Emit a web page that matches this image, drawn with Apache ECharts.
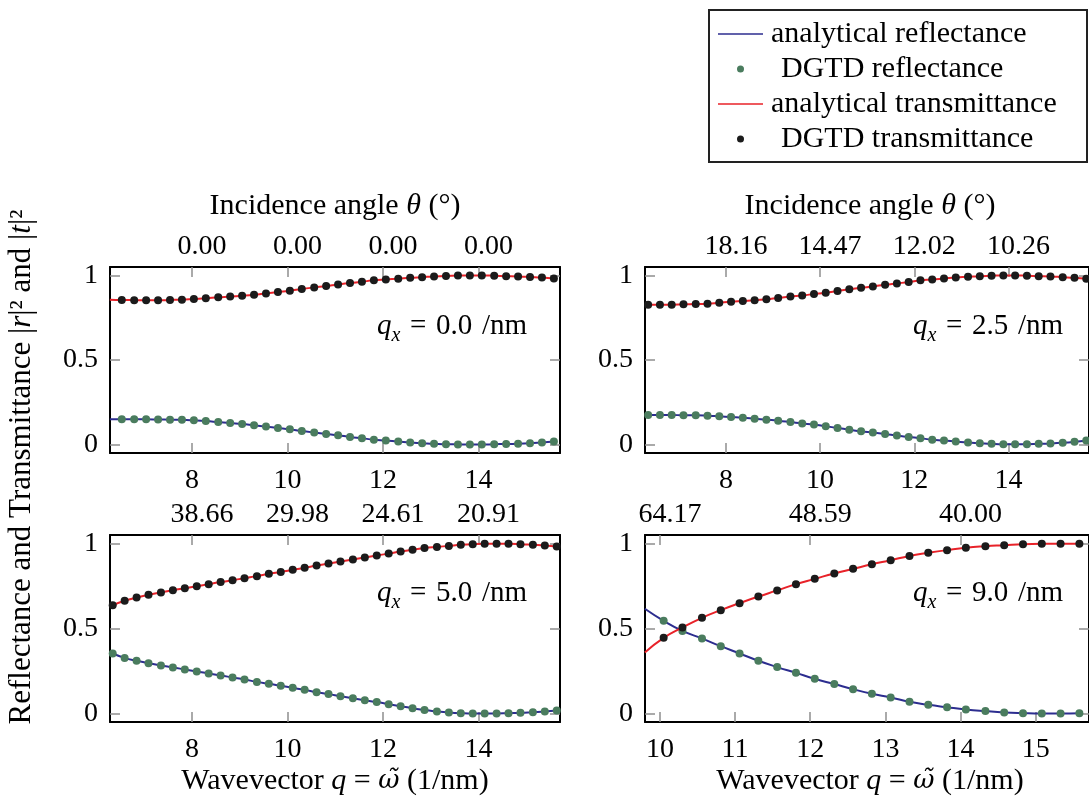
<!DOCTYPE html>
<html>
<head>
<meta charset="utf-8">
<script src="https://cdn.jsdelivr.net/npm/echarts@6/dist/echarts.min.js"></script>
<style>
  html, body { margin: 0; padding: 0; background: #ffffff; }
  #chart { width: 1089px; height: 809px; }
</style>
</head>
<body>
<div id="chart"></div>
<script>
// ---- Simulated frequencies (wavevector q = omega, 1/nm) for each q_x ----
const omegaQx00 = [6.28, 6.53, 6.79, 7.04, 7.29, 7.54, 7.79, 8.04, 8.29, 8.55, 8.80, 9.05, 9.30, 9.55, 9.80, 10.05, 10.30, 10.56, 10.81, 11.06, 11.31, 11.56, 11.81, 12.06, 12.32, 12.57, 12.82, 13.07, 13.32, 13.57, 13.82, 14.07, 14.33, 14.58, 14.83, 15.08, 15.33, 15.58];
const omegaQx25 = [6.35, 6.60, 6.85, 7.10, 7.36, 7.61, 7.86, 8.11, 8.36, 8.61, 8.86, 9.11, 9.37, 9.62, 9.87, 10.12, 10.37, 10.62, 10.87, 11.12, 11.38, 11.63, 11.88, 12.13, 12.38, 12.63, 12.88, 13.14, 13.39, 13.64, 13.89, 14.14, 14.39, 14.64, 14.89, 15.15, 15.40, 15.65];
const omegaQx50 = [6.34, 6.59, 6.84, 7.09, 7.35, 7.60, 7.85, 8.10, 8.35, 8.60, 8.85, 9.10, 9.36, 9.61, 9.86, 10.11, 10.36, 10.61, 10.86, 11.11, 11.37, 11.62, 11.87, 12.12, 12.37, 12.62, 12.87, 13.13, 13.38, 13.63, 13.88, 14.13, 14.38, 14.63, 14.88, 15.14, 15.39, 15.64];
const omegaQx90 = [9.80, 10.05, 10.30, 10.56, 10.81, 11.06, 11.31, 11.56, 11.81, 12.06, 12.32, 12.57, 12.82, 13.07, 13.32, 13.57, 13.82, 14.07, 14.33, 14.58, 14.83, 15.08, 15.33, 15.58];

// ---- Reflectance |r|^2 ----
const reflQx00 = [0.149, 0.149, 0.149, 0.149, 0.148, 0.147, 0.146, 0.143, 0.139, 0.133, 0.127, 0.122, 0.114, 0.106, 0.098, 0.090, 0.080, 0.071, 0.063, 0.055, 0.045, 0.037, 0.029, 0.024, 0.018, 0.012, 0.008, 0.004, 0.002, 0.001, 0.000, 0.000, 0.002, 0.003, 0.005, 0.008, 0.012, 0.018];
const reflQx25 = [0.175, 0.175, 0.175, 0.173, 0.173, 0.171, 0.167, 0.163, 0.159, 0.153, 0.147, 0.141, 0.133, 0.125, 0.118, 0.108, 0.098, 0.088, 0.078, 0.071, 0.063, 0.053, 0.045, 0.037, 0.029, 0.024, 0.018, 0.012, 0.008, 0.004, 0.002, 0.002, 0.002, 0.004, 0.006, 0.010, 0.016, 0.024];
const reflQx50 = [0.353, 0.327, 0.310, 0.296, 0.282, 0.271, 0.259, 0.247, 0.235, 0.224, 0.212, 0.200, 0.186, 0.175, 0.163, 0.151, 0.139, 0.125, 0.114, 0.102, 0.090, 0.078, 0.067, 0.055, 0.043, 0.031, 0.020, 0.012, 0.006, 0.002, 0.000, 0.000, 0.000, 0.002, 0.004, 0.008, 0.012, 0.018];
const reflQx90 = [0.616, 0.545, 0.486, 0.441, 0.396, 0.353, 0.310, 0.273, 0.239, 0.204, 0.173, 0.143, 0.116, 0.094, 0.069, 0.051, 0.037, 0.024, 0.014, 0.006, 0.002, 0.000, 0.000, 0.002];

// ---- Transmittance |t|^2 ----
const transQx00 = [0.857, 0.855, 0.854, 0.853, 0.853, 0.855, 0.857, 0.861, 0.865, 0.871, 0.875, 0.880, 0.886, 0.894, 0.902, 0.910, 0.920, 0.929, 0.937, 0.947, 0.955, 0.963, 0.971, 0.976, 0.981, 0.986, 0.990, 0.994, 0.997, 0.999, 1.000, 1.000, 0.998, 0.996, 0.994, 0.991, 0.988, 0.982];
const transQx25 = [0.827, 0.827, 0.827, 0.829, 0.831, 0.833, 0.839, 0.845, 0.849, 0.853, 0.859, 0.867, 0.875, 0.882, 0.890, 0.898, 0.908, 0.918, 0.927, 0.935, 0.945, 0.953, 0.961, 0.971, 0.976, 0.982, 0.988, 0.992, 0.996, 0.998, 1.000, 1.000, 0.998, 0.996, 0.994, 0.990, 0.986, 0.980];
const transQx50 = [0.637, 0.663, 0.682, 0.698, 0.712, 0.725, 0.737, 0.749, 0.761, 0.773, 0.784, 0.796, 0.808, 0.822, 0.833, 0.845, 0.857, 0.871, 0.882, 0.894, 0.906, 0.918, 0.929, 0.941, 0.953, 0.963, 0.973, 0.980, 0.986, 0.992, 0.996, 0.998, 0.998, 0.998, 0.996, 0.992, 0.988, 0.982];
const transQx90 = [0.359, 0.445, 0.506, 0.563, 0.608, 0.649, 0.688, 0.724, 0.761, 0.792, 0.824, 0.851, 0.878, 0.902, 0.927, 0.945, 0.961, 0.975, 0.984, 0.990, 0.996, 0.998, 0.998, 0.998];

// ---- Tick positions and labels ----
const wavevectorTicks = [8, 10, 12, 14];
const wavevectorTicksQx90 = [10, 11, 12, 13, 14, 15];
const angleTickPos = [8, 10, 12, 14];
const angleTickPosQx90 = [10, 12, 14];
const angleLabelsQx00 = ['0.00', '0.00', '0.00', '0.00'];
const angleLabelsQx25 = ['18.16', '14.47', '12.02', '10.26'];
const angleLabelsQx50 = ['38.66', '29.98', '24.61', '20.91'];
const angleLabelsQx90 = ['64.17', '48.59', '40.00'];
const qxValues = ['0.0', '2.5', '5.0', '9.0'];
const valueTicks = [0, 0.5, 1];
const legendNames = ['analytical reflectance', 'DGTD reflectance', 'analytical transmittance', 'DGTD transmittance'];

// ---- Styling ----
const FONT = 'Liberation Serif';
const MATH_FONT = 'DejaVu Serif';   // places the combining tilde correctly
const FS = 28;        // tick numbers
const FS_TEXT = 30;   // titles and legend
const COLOR_R_LINE = '#2c2d8f';
const COLOR_R_DOT = '#4a7c5e';
const COLOR_T_LINE = '#e82229';
const COLOR_T_DOT = '#1b1b1b';
const TICK_GREY = '#8e8e8e';

const panels = [
  { omega: omegaQx00, R: reflQx00, T: transQx00, xMin: 2 * Math.PI, bottom: wavevectorTicks, topPos: angleTickPos, topLabels: angleLabelsQx00,
    box: { left: 110, top: 267, width: 450, height: 186 } },
  { omega: omegaQx25, R: reflQx25, T: transQx25, xMin: 2 * Math.PI, bottom: wavevectorTicks, topPos: angleTickPos, topLabels: angleLabelsQx25,
    box: { left: 645, top: 267, width: 450, height: 186 } },
  { omega: omegaQx50, R: reflQx50, T: transQx50, xMin: 2 * Math.PI, bottom: wavevectorTicks, topPos: angleTickPos, topLabels: angleLabelsQx50,
    box: { left: 110, top: 535, width: 450, height: 187 } },
  { omega: omegaQx90, R: reflQx90, T: transQx90, xMin: 9.802, bottom: wavevectorTicksQx90, topPos: angleTickPosQx90, topLabels: angleLabelsQx90,
    box: { left: 645, top: 535, width: 450, height: 187 } }
];
const X_MAX = 5 * Math.PI;

function pairs(xs, ys) { return xs.map((x, i) => [x, ys[i]]); }

function buildOption() {
  const axisLineStyle = { onZero: false, lineStyle: { color: '#000', width: 2 } };
  const tickStyle = { color: TICK_GREY, width: 1.5 };

  const grid = [], xAxis = [], yAxis = [], series = [];
  panels.forEach((p, i) => {
    grid.push(Object.assign({ containLabel: false }, p.box));
    // bottom axis: wavevector
    xAxis.push({
      gridIndex: i, type: 'value', position: 'bottom', min: p.xMin, max: X_MAX,
      axisLine: axisLineStyle,
      axisTick: { inside: true, length: 10, lineStyle: tickStyle, customValues: p.bottom },
      axisLabel: { customValues: p.bottom, margin: 14, fontFamily: FONT, fontSize: FS, color: '#000' },
      splitLine: { show: false }
    });
    // top axis: incidence angle
    xAxis.push({
      gridIndex: i, type: 'value', position: 'top', min: p.xMin, max: X_MAX,
      axisLine: axisLineStyle,
      axisTick: { inside: true, length: 10, lineStyle: tickStyle, customValues: p.topPos },
      axisLabel: {
        customValues: p.topPos, margin: 6, padding: [0, 0, 0, 20],
        fontFamily: FONT, fontSize: FS, color: '#000',
        formatter: v => {
          const k = p.topPos.findIndex(t => Math.abs(t - v) < 1e-6);
          return k >= 0 ? p.topLabels[k] : '';
        }
      },
      splitLine: { show: false }
    });
    yAxis.push({
      gridIndex: i, type: 'value', position: 'left', min: -0.05, max: 1.05,
      axisLine: axisLineStyle,
      axisTick: { inside: true, length: 10, lineStyle: tickStyle, customValues: valueTicks },
      axisLabel: { customValues: valueTicks, margin: 12, fontFamily: FONT, fontSize: FS, color: '#000' },
      splitLine: { show: false }
    });
    yAxis.push({
      gridIndex: i, type: 'value', position: 'right', min: -0.05, max: 1.05,
      axisLine: axisLineStyle,
      axisTick: { inside: true, length: 10, lineStyle: tickStyle, customValues: valueTicks },
      axisLabel: { show: false },
      splitLine: { show: false }
    });

    const xa = 2 * i, ya = 2 * i;
    series.push({
      name: legendNames[0], type: 'line', xAxisIndex: xa, yAxisIndex: ya,
      data: pairs(p.omega, p.R), smooth: true, symbol: 'none', showSymbol: false,
      lineStyle: { color: COLOR_R_LINE, width: 2 }, itemStyle: { color: COLOR_R_LINE }, z: 2
    });
    series.push({
      name: legendNames[1], type: 'scatter', xAxisIndex: xa, yAxisIndex: ya,
      data: pairs(p.omega, p.R), symbol: 'circle', symbolSize: 8,
      itemStyle: { color: COLOR_R_DOT, opacity: 1 }, z: 3
    });
    series.push({
      name: legendNames[2], type: 'line', xAxisIndex: xa, yAxisIndex: ya,
      data: pairs(p.omega, p.T), smooth: true, symbol: 'none', showSymbol: false,
      lineStyle: { color: COLOR_T_LINE, width: 2 }, itemStyle: { color: COLOR_T_LINE }, z: 4
    });
    series.push({
      name: legendNames[3], type: 'scatter', xAxisIndex: xa, yAxisIndex: ya,
      data: pairs(p.omega, p.T), symbol: 'circle', symbolSize: 8,
      itemStyle: { color: COLOR_T_DOT, opacity: 1 }, z: 5
    });
  });

  // rich-text styles for the math-style labels
  function richStyles(size) {
    const sub = Math.round(size * 0.7);
    return {
      n: { fontFamily: FONT, fontSize: size, color: '#000', lineHeight: 40 },
      i: { fontFamily: FONT, fontSize: size, fontStyle: 'italic', color: '#000', lineHeight: 40 },
      m: { fontFamily: MATH_FONT, fontSize: Math.round(size * 0.87), fontStyle: 'italic', color: '#000', lineHeight: 40 },
      sub: { fontFamily: FONT, fontSize: sub, fontStyle: 'italic', color: '#000', lineHeight: sub, verticalAlign: 'bottom' }
    };
  }
  function richText(x, y, text, size, extra) {
    return Object.assign({
      type: 'text', x: x, y: y, silent: true,
      style: { text: text, rich: richStyles(size), align: 'center', verticalAlign: 'middle',
               fontFamily: FONT, fontSize: size, fill: '#000' }
    }, extra || {});
  }

  const graphic = [];
  // legend frame
  graphic.push({ type: 'rect', z: 1, silent: true,
    shape: { x: 709, y: 10, width: 378, height: 152 },
    style: { fill: '#fff', stroke: '#222', lineWidth: 2 } });
  // axis titles
  const angleTitle = '{n|Incidence angle }{i|θ}{n| (°)}';
  const waveTitle = '{n|Wavevector }{i|q}{n| = }{m|ω̃}{n| (1/nm)}';
  graphic.push(richText(335, 206, angleTitle, FS_TEXT));
  graphic.push(richText(870, 206, angleTitle, FS_TEXT));
  graphic.push(richText(335, 781, waveTitle, FS_TEXT));
  graphic.push(richText(870, 781, waveTitle, FS_TEXT));
  graphic.push(richText(22, 467, '{n|Reflectance and Transmittance |}{i|r}{n||² and |}{i|t}{n||²}', 31,
    { rotation: Math.PI / 2 }));
  // q_x annotations inside each panel
  const qxAnchor = [[452, 326], [988, 326], [452, 593], [988, 593]];
  qxValues.forEach((v, i) => {
    graphic.push(richText(qxAnchor[i][0], qxAnchor[i][1],
      '{i|q}{sub|x}{n|\u2004=\u2004' + v + '\u2004/nm}', 29));
  });

  return {
    animation: false,
    grid: grid,
    xAxis: xAxis,
    yAxis: yAxis,
    series: series,
    legend: {
      orient: 'vertical', left: 718, top: 16.5, padding: 0, itemGap: 0,
      itemWidth: 45, itemHeight: 7, selectedMode: false, z: 10,
      itemStyle: { borderWidth: 0, opacity: 1 },
      textStyle: { fontFamily: FONT, fontSize: FS_TEXT, color: '#000', lineHeight: 35 },
      data: [
        { name: legendNames[0], icon: 'path://M0,0H45V1.6H0Z', textStyle: { padding: [0, 0, 0, 3] } },
        { name: legendNames[1], icon: 'circle', textStyle: { padding: [0, 0, 0, 13] } },
        { name: legendNames[2], icon: 'path://M0,0H45V1.6H0Z', textStyle: { padding: [0, 0, 0, 3] } },
        { name: legendNames[3], icon: 'circle', textStyle: { padding: [0, 0, 0, 13] } }
      ]
    },
    graphic: graphic
  };
}

const chart = echarts.init(document.getElementById('chart'), null, { renderer: 'canvas' });
chart.setOption(buildOption());
// repaint once the local fonts are confirmed available
if (document.fonts && document.fonts.load) {
  Promise.all([
    document.fonts.load('28px "' + FONT + '"'),
    document.fonts.load('italic 28px "' + FONT + '"'),
    document.fonts.load('italic 26px "' + MATH_FONT + '"')
  ]).then(() => { chart.clear(); chart.setOption(buildOption()); }).catch(() => {});
}
</script>
</body>
</html>
